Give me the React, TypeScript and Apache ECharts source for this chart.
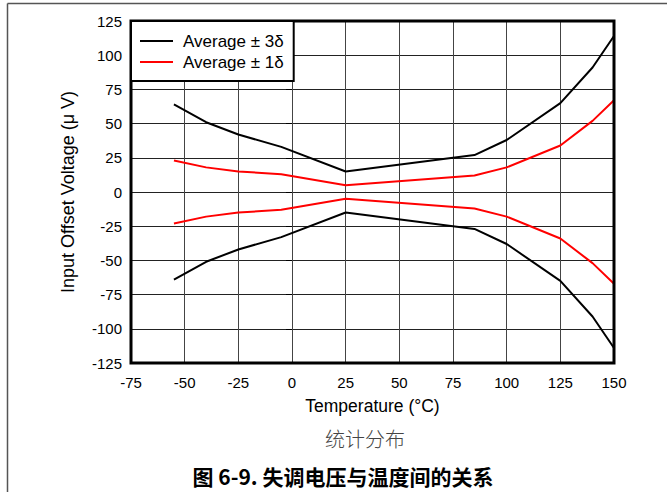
import React, { useEffect, useRef } from "react";
import * as echarts from "echarts";

const temperatures = [-55, -40, -25, -5, 25, 85, 100, 125, 140, 150];
const avg3Upper = [64, 51, 42, 33, 15, 27, 38, 65, 91, 114];
const avg3Lower = [-64, -51, -42, -33, -15, -27, -38, -65, -91, -114];
const avg1Upper = [23, 18, 15, 13, 5, 12, 18, 34, 52, 67];
const avg1Lower = [-23, -18, -15, -13, -5, -12, -18, -34, -52, -67];
const seriesNames = ["Average \u00b1 3\u03b4", "Average \u00b1 1\u03b4"];
const xTitle = "Temperature (\u00b0C)";
const yTitle = "Input Offset Voltage (\u03bc V)";
const subCaption = "统计分布";
const figCaption = "图 6-9. 失调电压与温度间的关系";

const FONT = "'Liberation Sans', Arial, Helvetica, sans-serif";

function pairs(vals: number[]) {
  return temperatures.map((t, i) => [t, vals[i]]);
}

export default function App() {
  const ref = useRef<HTMLDivElement>(null);
  useEffect(() => {
    if (!ref.current) return;
    const chart = echarts.init(ref.current, null, { renderer: "svg" });
    const mk = (name: string, vals: number[], color: string) => ({
      name,
      type: "line",
      data: pairs(vals),
      symbol: "none",
      lineStyle: { color, width: 2 },
      itemStyle: { color },
      z: 3,
    });
    chart.setOption({
      animation: false,
      backgroundColor: "#fff",
      grid: {
        left: 131,
        right: 53,
        top: 21,
        bottom: 129,
        show: true,
        borderColor: "#000",
        borderWidth: 3,
        z: 4,
      },
      xAxis: {
        type: "value",
        min: -75,
        max: 150,
        interval: 25,
        name: xTitle,
        nameLocation: "middle",
        nameGap: 34,
        nameTextStyle: { fontFamily: FONT, fontSize: 17.5, color: "#000" },
        axisLine: { show: false },
        axisTick: { show: false },
        axisLabel: { fontFamily: FONT, fontSize: 15, color: "#000", margin: 12 },
        splitLine: { show: true, lineStyle: { color: "#444", width: 1 } },
      },
      yAxis: {
        type: "value",
        min: -125,
        max: 125,
        interval: 25,
        name: yTitle,
        nameLocation: "middle",
        nameGap: 54,
        nameTextStyle: { fontFamily: FONT, fontSize: 18, color: "#000" },
        axisLine: { show: false },
        axisTick: { show: true, length: 6, lineStyle: { color: "#000", width: 1 } },
        axisLabel: { fontFamily: FONT, fontSize: 15, color: "#000", margin: 9 },
        splitLine: { show: true, lineStyle: { color: "#222", width: 1 } },
      },
      legend: {
        left: 131,
        top: 21,
        orient: "vertical",
        backgroundColor: "#fff",
        borderColor: "#000",
        borderWidth: 2,
        padding: [11, 10, 10, 9],
        itemGap: 3,
        itemWidth: 33,
        itemHeight: 2,
        icon: "rect",
        selectedMode: false,
        textStyle: {
          fontFamily: FONT,
          fontSize: 17,
          color: "#000",
          lineHeight: 18,
          padding: [0, 0, 0, 5],
        },
        data: seriesNames,
        z: 10,
      },
      series: [
        mk(seriesNames[0], avg3Upper, "#000"),
        mk(seriesNames[0], avg3Lower, "#000"),
        mk(seriesNames[1], avg1Upper, "#ff0000"),
        mk(seriesNames[1], avg1Lower, "#ff0000"),
      ],
      graphic: [
        {
          type: "line",
          shape: { x1: 7.5, y1: 3.5, x2: 667, y2: 3.5 },
          style: { stroke: "#555", lineWidth: 1.5 },
        },
        {
          type: "line",
          shape: { x1: 7.5, y1: 3.5, x2: 7.5, y2: 492 },
          style: { stroke: "#555", lineWidth: 1.5 },
        },
        {
          type: "text",
          x: 365,
          y: 438,
          style: {
            text: subCaption,
            fontFamily: "'Noto Sans CJK SC', sans-serif",
            fontSize: 20,
            fontWeight: 300,
            fill: "#444",
            textAlign: "center",
            textVerticalAlign: "middle",
          },
        },
        {
          type: "text",
          x: 343,
          y: 476,
          style: {
            text: figCaption,
            fontFamily: "'Noto Sans CJK SC', sans-serif",
            fontSize: 21,
            fontWeight: "bold",
            fill: "#000",
            textAlign: "center",
            textVerticalAlign: "middle",
          },
        },
      ],
    });
    return () => chart.dispose();
  }, []);
  return (
    <div
      ref={ref}
      style={{ position: "fixed", left: 0, top: 0, width: 667, height: 492 }}
    />
  );
}
